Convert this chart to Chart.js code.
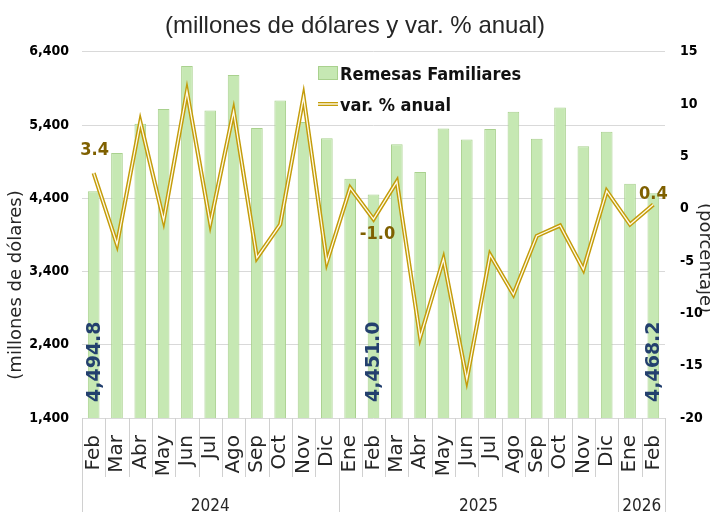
<!DOCTYPE html>
<html lang="es">
<head>
  <meta charset="UTF-8">
  <title>Remesas Familiares</title>
  <script src="https://cdn.jsdelivr.net/npm/chart.js"></script>
  <style>
    html, body {
      margin: 0;
      padding: 0;
      background-color: #ffffff;
    }
  </style>
</head>
<body>
  <canvas id="remesasChart" width="710" height="512"></canvas>

  <script>
    // data
    const months = ['Feb', 'Mar', 'Abr', 'May', 'Jun', 'Jul', 'Ago', 'Sep', 'Oct', 'Nov', 'Dic',
                    'Ene', 'Feb', 'Mar', 'Abr', 'May', 'Jun', 'Jul', 'Ago', 'Sep', 'Oct', 'Nov', 'Dic',
                    'Ene', 'Feb'];
    const years = ['2024', '2025', '2026'];
    const yearSpans = [11, 12, 2];
    const remesas = [4494.8, 5019, 5418, 5620, 6207, 5597, 6083, 5359, 5734, 5441, 5221,
                     4665, 4451.0, 5139, 4758, 5354, 5202, 5345, 5583, 5212, 5639, 5112, 5308,
                     4597, 4468.2];
    const varAnual = [3.4, -3.4, 8.3, -1.1, 11.2, -1.4, 9.3, -4.7, -1.5, 10.7, -5.1,
                      2.0, -1.0, 2.6, -12.3, -4.8, -16.3, -4.4, -8.2, -2.6, -1.6, -5.8, 1.7,
                      -1.5, 0.4];
    const labeledIdx = [0, 12, 24];
    const leftAxis = { min: 1400, max: 6400, step: 1000 };
    const rightAxis = { min: -20, max: 15, step: 5 };

    const sans = '"DejaVu Sans", sans-serif';
    const cond = '"DejaVu Sans Condensed", "DejaVu Sans", sans-serif';
    const barFill = '#c6e8b3';
    const barEdge = '#a9d18e';
    const gold = '#c49c0a';

    const fmtBar = v => v.toLocaleString('en-US', { minimumFractionDigits: 1, maximumFractionDigits: 1 });

    // labels on the first / middle / last month
    const dataLabels = {
      id: 'dataLabels',
      afterDatasetsDraw(chart) {
        const ctx = chart.ctx;
        const bars = chart.getDatasetMeta(0).data;
        const pts = chart.getDatasetMeta(1).data;
        const base = chart.scales.y.getPixelForValue(leftAxis.min);
        ctx.save();
        labeledIdx.forEach(i => {
          const b = bars[i];
          ctx.save();
          ctx.translate(b.x + 1, base - 16);
          ctx.rotate(-Math.PI / 2);
          ctx.fillStyle = '#23406e';
          ctx.font = 'bold 19px ' + sans;
          ctx.textAlign = 'left';
          ctx.textBaseline = 'middle';
          ctx.fillText(fmtBar(remesas[i]), 0, 0);
          ctx.restore();
        });
        const shift = { 0: [1, -23], 12: [4, 15], 24: [0, -10] };
        ctx.fillStyle = '#7f6000';
        ctx.font = 'bold 18px ' + cond;
        ctx.textAlign = 'center';
        ctx.textBaseline = 'middle';
        labeledIdx.forEach(i => {
          const p = pts[i];
          ctx.fillText(varAnual[i].toFixed(1), p.x + shift[i][0], p.y + shift[i][1]);
        });
        ctx.restore();
      }
    };

    // two level category axis, axis titles and legend
    const decorations = {
      id: 'decorations',
      afterDraw(chart) {
        const { ctx, chartArea } = chart;
        const xs = chart.scales.x;
        const n = months.length;
        const step = (xs.right - xs.left) / n;
        const edges = [0];
        yearSpans.forEach(s => edges.push(edges[edges.length - 1] + s));

        ctx.save();
        ctx.strokeStyle = '#d0d0d0';
        ctx.lineWidth = 1;
        for (let i = 0; i <= n; i++) {
          const px = Math.round(xs.left + i * step) + 0.5;
          ctx.beginPath();
          ctx.moveTo(px, chartArea.bottom);
          ctx.lineTo(px, edges.includes(i) ? chart.height : chartArea.bottom + 59);
          ctx.stroke();
        }

        ctx.fillStyle = '#262626';
        ctx.font = '17px ' + cond;
        ctx.textAlign = 'center';
        ctx.textBaseline = 'alphabetic';
        years.forEach((y, k) => {
          const cx = xs.left + (edges[k] + edges[k + 1]) / 2 * step;
          ctx.fillText(y, cx, chart.height - 1);
        });

        // axis titles
        ctx.font = '18px ' + sans;
        ctx.textBaseline = 'middle';
        ctx.save();
        ctx.translate(16, 285);
        ctx.rotate(-Math.PI / 2);
        ctx.fillText('(millones de dólares)', 0, 0);
        ctx.restore();
        ctx.save();
        ctx.translate(705, 258);
        ctx.rotate(Math.PI / 2);
        ctx.fillText('(porcentaje)', 0, 0);
        ctx.restore();

        // legend
        const ds = chart.data.datasets;
        ctx.fillStyle = barFill;
        ctx.strokeStyle = barEdge;
        ctx.fillRect(318, 66, 20, 14);
        ctx.strokeRect(318.5, 66.5, 19, 13);
        ctx.strokeStyle = gold;
        ctx.lineWidth = 4;
        ctx.beginPath(); ctx.moveTo(318, 104); ctx.lineTo(338, 104); ctx.stroke();
        ctx.strokeStyle = '#fffbe8';
        ctx.lineWidth = 1.4;
        ctx.beginPath(); ctx.moveTo(318, 104); ctx.lineTo(338, 104); ctx.stroke();
        ctx.fillStyle = '#111111';
        ctx.font = 'bold 18px ' + cond;
        ctx.textAlign = 'left';
        ctx.textBaseline = 'alphabetic';
        ctx.fillText(ds[0].label, 340, 80);
        ctx.fillText(ds[1].label, 340, 111);
        ctx.restore();
      }
    };

    const chart = new Chart(document.getElementById('remesasChart'), {
      data: {
        labels: months,
        datasets: [
          {
            type: 'bar',
            label: 'Remesas Familiares',
            data: remesas,
            yAxisID: 'y',
            backgroundColor: barFill,
            borderColor: barEdge,
            borderWidth: 1,
            barPercentage: 0.5,
            categoryPercentage: 1.0,
            order: 2
          },
          {
            type: 'line',
            label: 'var. % anual',
            data: varAnual,
            yAxisID: 'y1',
            borderColor: gold,
            borderWidth: 4.2,
            pointRadius: 0,
            tension: 0,
            order: 1
          },
          {
            type: 'line',
            label: 'var. % anual (centro)',
            data: varAnual,
            yAxisID: 'y1',
            borderColor: '#fffbe8',
            borderWidth: 1.3,
            pointRadius: 0,
            tension: 0,
            order: 0
          }
        ]
      },
      options: {
        responsive: false,
        animation: false,
        layout: { padding: 0 },
        plugins: {
          legend: { display: false },
          tooltip: { enabled: false },
          title: {
            display: true,
            text: '(millones de dólares y var. % anual)',
            color: '#262626',
            font: { family: '"Liberation Sans", sans-serif', size: 24, weight: 'normal' },
            padding: { top: 12, bottom: 11 }
          }
        },
        scales: {
          x: {
            type: 'category',
            offset: true,
            grid: { display: false },
            border: { display: false },
            ticks: {
              autoSkip: false,
              minRotation: 90,
              maxRotation: 90,
              padding: 9,
              color: '#262626',
              font: { family: sans, size: 20 }
            },
            afterFit(s) { s.height = 94; }
          },
          y: {
            position: 'left',
            min: leftAxis.min,
            max: leftAxis.max,
            ticks: {
              stepSize: leftAxis.step,
              padding: 13,
              color: '#000000',
              font: { family: cond, size: 14, weight: 'bold' }
            },
            grid: { color: '#d9d9d9', drawTicks: false },
            border: { display: false },
            afterFit(s) { s.width = 82; }
          },
          y1: {
            position: 'right',
            min: rightAxis.min,
            max: rightAxis.max,
            ticks: {
              stepSize: rightAxis.step,
              padding: 15,
              color: '#000000',
              font: { family: cond, size: 14, weight: 'bold' }
            },
            grid: { display: false, drawTicks: false },
            border: { display: false },
            afterFit(s) { s.width = 45; }
          }
        }
      },
      plugins: [dataLabels, decorations]
    });
  </script>
</body>
</html>
